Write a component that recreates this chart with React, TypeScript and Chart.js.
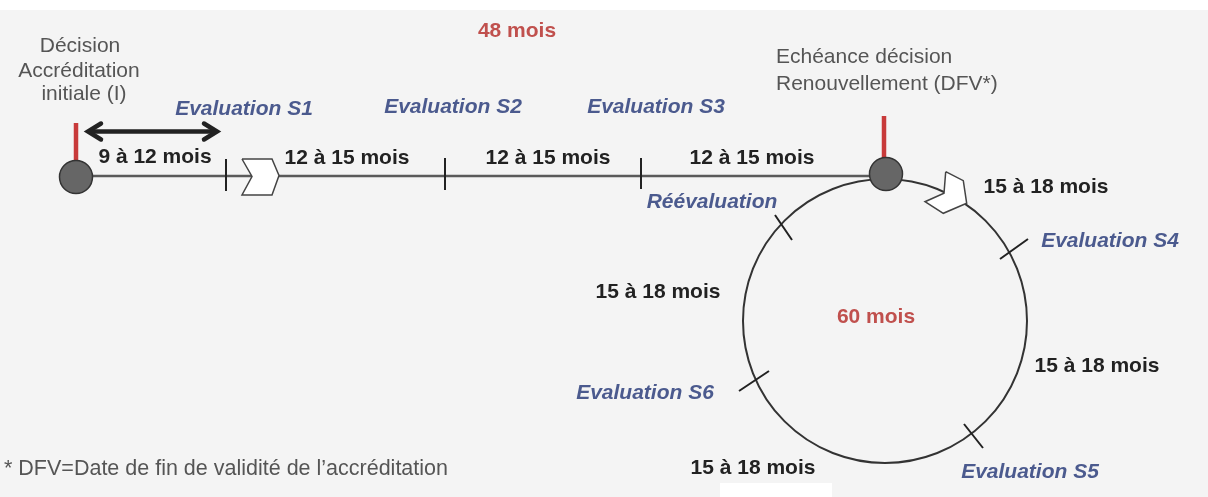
import { useEffect, useRef } from "react";
import { Chart, registerables } from "chart.js";

Chart.register(...registerables);

type P = [number, number];

// Diagram coordinate space: x 0..1208 (left→right), y 0..497 (top→bottom)
const mainLine: P[] = [[76, 176], [886, 176]];
const lineTicks: P[][] = [
  [[226, 159], [226, 191]],
  [[445, 158], [445, 190]],
  [[641, 158], [641, 189]],
];
const cycleCentre: P[] = [[885, 321]];
const circleTicks: P[][] = [
  [[775, 215], [792, 240]],
  [[1000, 259], [1028, 239]],
  [[739, 391], [769, 371]],
  [[964, 424], [983, 448]],
];
const chevrons: P[][] = [
  [[242, 159], [272, 159], [279, 175.5], [272, 195], [242, 195], [252, 176.5], [242, 159]],
  [[945.7, 171.7], [963.3, 180.7], [966.7, 203.3], [943.3, 213.3], [925, 201.7], [944, 193.3], [945.7, 171.7]],
];
const redStems: P[][] = [
  [[76, 123], [76, 170]],
  [[884, 116], [884, 165]],
];
const nodes: P[] = [[76, 177], [886, 174]];
const durationArrow: P[] = [[88, 131.5], [217, 131.5]];
const arrowHeads: P[][] = [
  [[101, 123.5], [88, 131.5], [101, 139.5]],
  [[204, 123.5], [217, 131.5], [204, 139.5]],
];

const decisionLabels = ["Décision", "Accréditation", "initiale (I)"];
const decisionAnchors: P[] = [[80, 52], [79, 77], [84, 100]];
const renewalLabels = ["Echéance décision", "Renouvellement (DFV*)"];
const renewalAnchors: P[] = [[776, 63], [776, 90]];
const footnoteLabels = ["* DFV=Date de fin de validité de l’accréditation"];
const footnoteAnchors: P[] = [[4, 475]];
const durationLabels = [
  "9 à 12 mois", "12 à 15 mois", "12 à 15 mois", "12 à 15 mois",
  "15 à 18 mois", "15 à 18 mois", "15 à 18 mois", "15 à 18 mois",
];
const durationAnchors: P[] = [
  [155, 163], [347, 164], [548, 164], [752, 164],
  [1046, 193], [658, 298], [1097, 372], [753, 474],
];
const stepLabels = [
  "Evaluation S1", "Evaluation S2", "Evaluation S3", "Réévaluation",
  "Evaluation S4", "Evaluation S6", "Evaluation S5",
];
const stepAnchors: P[] = [
  [244, 115], [453, 113], [656, 113], [712, 208],
  [1110, 247], [645, 399], [1030, 478],
];
const totalLabels = ["48 mois", "60 mois"];
const totalAnchors: P[] = [[517, 37], [876, 323]];

const FONT = '"Liberation Sans", Arial, sans-serif';

const pts = (list: P[]) => list.map(([x, y]) => ({ x, y }));
const segs = (list: P[][]) => {
  const out: { x: number | null; y: number | null }[] = [];
  list.forEach((s, i) => {
    if (i > 0) out.push({ x: null, y: null });
    s.forEach(([x, y]) => out.push({ x, y }));
  });
  return out;
};

const textGroups = [
  { labels: decisionLabels, anchors: decisionAnchors, font: `21px ${FONT}`, color: "#555555", align: "center" },
  { labels: renewalLabels, anchors: renewalAnchors, font: `21px ${FONT}`, color: "#555555", align: "left" },
  { labels: footnoteLabels, anchors: footnoteAnchors, font: `21.5px ${FONT}`, color: "#555555", align: "left" },
  { labels: durationLabels, anchors: durationAnchors, font: `bold 21px ${FONT}`, color: "#222222", align: "center" },
  { labels: stepLabels, anchors: stepAnchors, font: `italic bold 21px ${FONT}`, color: "#4b5a8e", align: "center" },
  { labels: totalLabels, anchors: totalAnchors, font: `bold 21px ${FONT}`, color: "#c0504d", align: "center" },
];

const backgroundPlugin = {
  id: "bg",
  beforeDraw(chart: any) {
    const { ctx, width, height } = chart;
    const { x, y } = chart.scales;
    ctx.save();
    ctx.fillStyle = "#ffffff";
    ctx.fillRect(0, 0, width, height);
    ctx.fillStyle = "#f4f4f4";
    const top = y.getPixelForValue(10);
    ctx.fillRect(0, top, width, height - top);
    ctx.fillStyle = "#ffffff";
    const l = x.getPixelForValue(720);
    const r = x.getPixelForValue(832);
    const t = y.getPixelForValue(483);
    ctx.fillRect(l, t, r - l, height - t);
    ctx.restore();
  },
};

const textPlugin = {
  id: "texts",
  afterDatasetsDraw(chart: any) {
    const { ctx } = chart;
    const { x, y } = chart.scales;
    ctx.save();
    ctx.textBaseline = "alphabetic";
    for (const g of textGroups) {
      ctx.font = g.font;
      ctx.fillStyle = g.color;
      ctx.textAlign = g.align;
      g.labels.forEach((t, i) => {
        const [ax, ay] = g.anchors[i];
        ctx.fillText(t, x.getPixelForValue(ax), y.getPixelForValue(ay));
      });
    }
    ctx.restore();
  },
};

export default function App() {
  const ref = useRef<HTMLCanvasElement>(null);
  useEffect(() => {
    document.body.style.margin = "0";
    const canvas = ref.current!;
    const lineDs = (data: any[], color: string, width: number, order: number, extra: any = {}) => ({
      data,
      showLine: true,
      borderColor: color,
      borderWidth: width,
      pointRadius: 0,
      pointHoverRadius: 0,
      fill: false,
      tension: 0,
      spanGaps: false,
      clip: false,
      order,
      ...extra,
    });
    const chart = new Chart(canvas, {
      type: "scatter",
      data: {
        datasets: [
          {
            data: pts(cycleCentre),
            pointRadius: 142,
            pointHoverRadius: 142,
            pointBackgroundColor: "rgba(0,0,0,0)",
            pointBorderColor: "#333333",
            pointBorderWidth: 2,
            clip: false,
            order: 10,
          } as any,
          lineDs(pts(mainLine), "#5a5a5a", 2.5, 9),
          lineDs(segs(lineTicks), "#222222", 2, 8),
          lineDs(segs(circleTicks), "#222222", 2, 8),
          lineDs(pts(chevrons[0]), "#444444", 1.5, 7, { fill: "shape", backgroundColor: "#ffffff" }),
          lineDs(pts(chevrons[1]), "#444444", 1.5, 7, { fill: "shape", backgroundColor: "#ffffff" }),
          lineDs(segs(redStems), "#c83a3a", 4.5, 6),
          {
            data: pts(nodes),
            pointRadius: 16.5,
            pointHoverRadius: 16.5,
            pointBackgroundColor: "#666666",
            pointBorderColor: "#333333",
            pointBorderWidth: 1.5,
            clip: false,
            order: 5,
          } as any,
          lineDs(pts(durationArrow), "#222222", 4.5, 4),
          lineDs(segs(arrowHeads), "#222222", 4.5, 4, { borderJoinStyle: "miter", borderCapStyle: "round" }),
        ],
      },
      options: {
        animation: false,
        responsive: false,
        devicePixelRatio: 1,
        layout: { padding: 0, autoPadding: false },
        events: [],
        scales: {
          x: { type: "linear", min: 0, max: 1208, display: false },
          y: { type: "linear", min: 0, max: 497, reverse: true, display: false },
        },
        plugins: { legend: { display: false }, tooltip: { enabled: false } },
      },
      plugins: [backgroundPlugin, textPlugin],
    } as any);
    return () => chart.destroy();
  }, []);
  return <canvas ref={ref} width={1208} height={497} style={{ display: "block" }} />;
}
